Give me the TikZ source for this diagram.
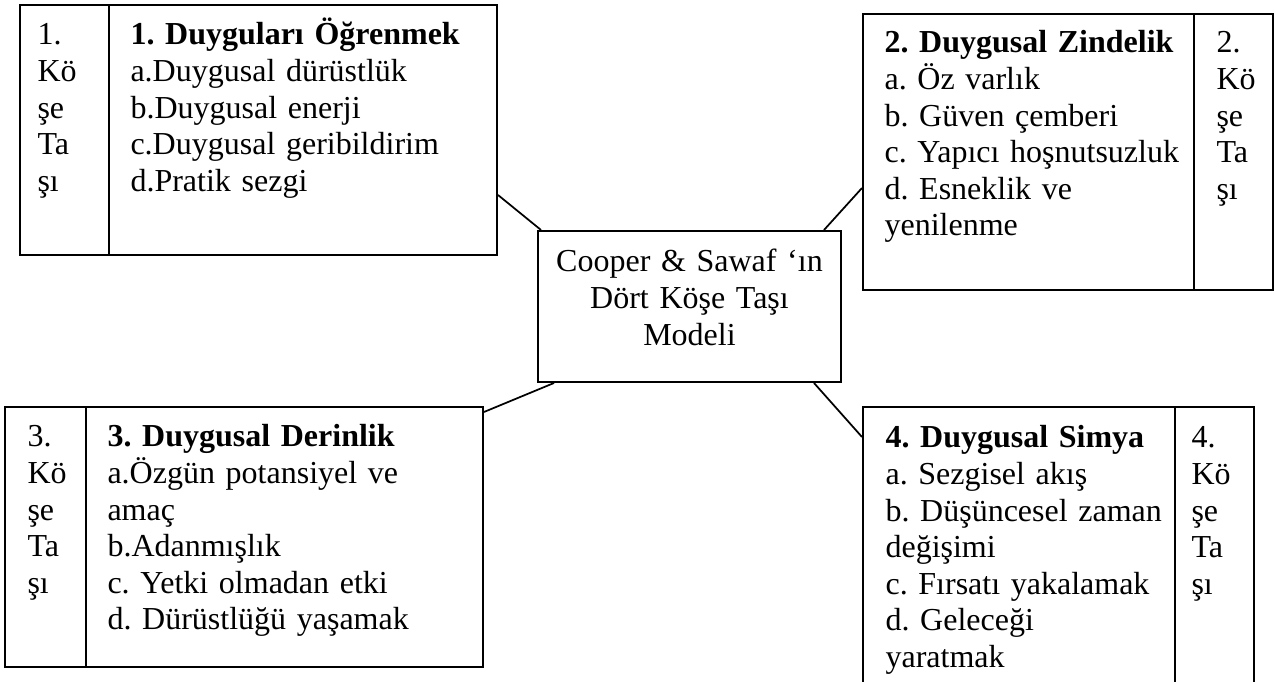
\documentclass[tikz,border=0pt]{standalone}
\usepackage{fontspec}
\setmainfont{Liberation Serif}
\usepackage{tikz}
\usetikzlibrary{positioning,fit,calc}
\frenchspacing

\tikzset{
  kutu/.style={draw, line width=0.75pt, inner sep=0pt},
  yazi/.style={anchor=base west, inner sep=0pt, align=left, text width=6cm,
    font=\fontsize{12}{13.7}\selectfont},
  sutun/.style={yazi, text width=1cm},
  baglanti/.style={line width=0.65pt}
}

\begin{document}
\begin{tikzpicture}[x=0.375pt, y=-0.375pt]
\useasboundingbox (0,0) rectangle (1275,682);
\clip (0,0) rectangle (1275,682);

% center box
\node[kutu, fit={(538,231) (841,382)}] (cb) {};
\node[yazi, anchor=base, align=center, text width=4cm] (cbt) at (689.5,272)
  {Cooper \& Sawaf ‘ın\\Dört Köşe Taşı\\Modeli};

% 1. cornerstone (top left)
\node[kutu, fit={(20,5) (109,255)}] (k1) {};
\node[kutu, fit={(109,5) (497,255)}] (b1) {};
\node[sutun] (k1t) at (37,45) {1.\\Kö\\şe\\Ta\\şı};
\node[yazi] (b1t) at (130,45) {\textbf{1. Duyguları Öğrenmek}\\a.Duygusal dürüstlük\\b.Duygusal enerji\\c.Duygusal geribildirim\\d.Pratik sezgi};

% 2. cornerstone (top right)
\node[kutu, fit={(863,14) (1194,290)}] (b2) {};
\node[kutu, fit={(1194,14) (1273,290)}] (k2) {};
\node[yazi] (b2t) at (884,53) {\textbf{2. Duygusal Zindelik}\\a. Öz varlık\\b. Güven çemberi\\c. Yapıcı hoşnutsuzluk\\d. Esneklik ve\\yenilenme};
\node[sutun] (k2t) at (1216,53) {2.\\Kö\\şe\\Ta\\şı};

% 3. cornerstone (bottom left)
\node[kutu, fit={(5,407) (86,667)}] (k3) {};
\node[kutu, fit={(86,407) (483,667)}] (b3) {};
\node[sutun] (k3t) at (27,447) {3.\\Kö\\şe\\Ta\\şı};
\node[yazi] (b3t) at (107,447) {\textbf{3. Duygusal Derinlik}\\a.Özgün potansiyel ve\\amaç\\b.Adanmışlık\\c. Yetki olmadan etki\\d. Dürüstlüğü yaşamak};

% 4. cornerstone (bottom right)
\node[kutu, fit={(863,407) (1175,700)}] (b4) {};
\node[kutu, fit={(1175,407) (1254,700)}] (k4) {};
\node[yazi] (b4t) at (885,448) {\textbf{4. Duygusal Simya}\\a. Sezgisel akış\\b. Düşüncesel zaman\\değişimi\\c. Fırsatı yakalamak\\d. Geleceği\\yaratmak};
\node[sutun] (k4t) at (1191,448) {4.\\Kö\\şe\\Ta\\şı};

% connectors
\draw[baglanti] ($(b1.south east)+(0,-61)$) -- ($(cb.north west)+(4,0)$);
\draw[baglanti] ($(b2.south west)+(0,-103)$) -- ($(cb.north east)+(-18,0)$);
\draw[baglanti] ($(cb.south west)+(17,0)$) -- ($(b3.north east)+(0,6)$);
\draw[baglanti] ($(cb.south east)+(-28,0)$) -- ($(b4.north west)+(0,31)$);
\end{tikzpicture}
\end{document}
